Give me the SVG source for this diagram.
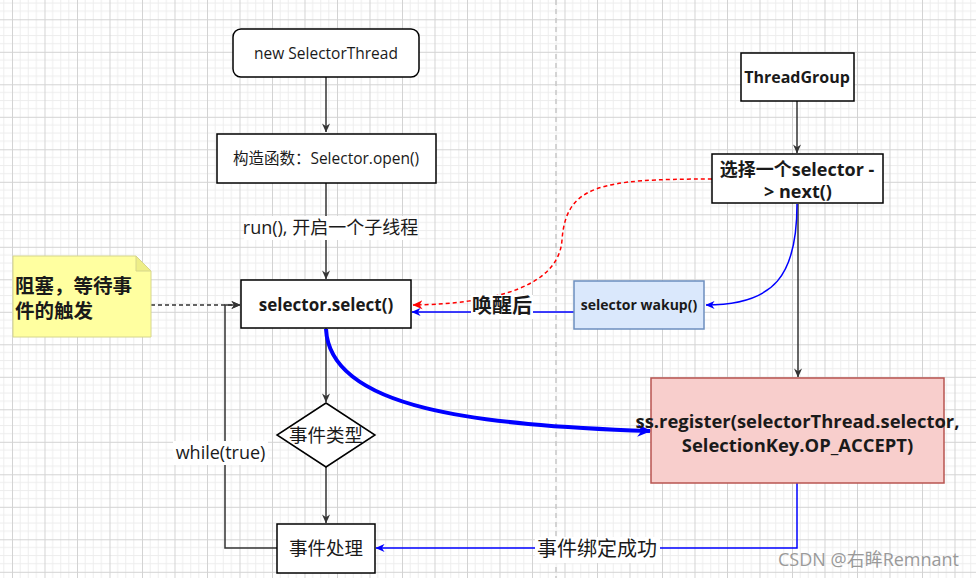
<svg xmlns="http://www.w3.org/2000/svg" width="976" height="578" viewBox="0 0 976 578">
<defs>
<pattern id="grid" x="12" y="19.3" width="32.5" height="32.5" patternUnits="userSpaceOnUse">
<path d="M8.125,0V32.5M16.25,0V32.5M24.375,0V32.5M0,8.125H32.5M0,16.25H32.5M0,24.375H32.5" stroke="#ededed" stroke-width="1" fill="none"/>
<path d="M0.5,0V32.5M0,0.5H32.5" stroke="#d3d3d3" stroke-width="1" fill="none"/>
</pattern>
<marker id="ab" viewBox="0 0 10 10" refX="9.5" refY="5" markerWidth="9" markerHeight="9" orient="auto" markerUnits="userSpaceOnUse"><path d="M0,0.5L10,5L0,9.5L3,5z" fill="#333"/></marker>
<marker id="abl" viewBox="0 0 10 10" refX="9.5" refY="5" markerWidth="9" markerHeight="9" orient="auto" markerUnits="userSpaceOnUse"><path d="M0,0.5L10,5L0,9.5L3,5z" fill="#0000ff"/></marker>
<marker id="abig" viewBox="0 0 10 10" refX="9" refY="5" markerWidth="16" markerHeight="14" orient="auto" markerUnits="userSpaceOnUse"><path d="M0,0.5L10,5L0,9.5L3,5z" fill="#0000ff"/></marker>
<marker id="ar" viewBox="0 0 10 10" refX="9.5" refY="5" markerWidth="10" markerHeight="10" orient="auto" markerUnits="userSpaceOnUse"><path d="M0,0.5L10,5L0,9.5L3,5z" fill="#ff0000"/></marker>
</defs>
<style>
text{font-family:"Open Sans","Noto Sans CJK SC",sans-serif;fill:#1a1a1a;text-anchor:middle}
.b{font-weight:bold}
.box{fill:#fff;stroke:#000;stroke-width:1.5}
.ln{fill:none;stroke:#333;stroke-width:1.5}
.bl{fill:none;stroke:#0000ff;stroke-width:1.5}
.lbg{fill:#fff}
</style>
<rect width="976" height="578" fill="#fff"/>
<rect width="976" height="578" fill="url(#grid)"/>
<line x1="556" y1="0" x2="556" y2="578" stroke="#c8c8c8" stroke-width="1.5" stroke-dasharray="5 4"/>

<g id="connectors">
<path class="ln" d="M326,77V132" marker-end="url(#ab)"/>
<path class="ln" d="M326,183V279" marker-end="url(#ab)"/>
<path class="ln" d="M326,328V402" marker-end="url(#ab)"/>
<path class="ln" d="M326,467V523" marker-end="url(#ab)"/>
<path class="ln" d="M277,548H225V305H240" marker-end="url(#ab)"/>
<path class="ln" d="M151,305H240" stroke-dasharray="4 3" marker-end="url(#ab)"/>
<path class="ln" d="M797,101V153" marker-end="url(#ab)"/>
<path class="ln" d="M798,204V377" marker-end="url(#ab)"/>
<path class="bl" d="M797,204C797,275 775,305 706,305" marker-end="url(#abl)"/>
<path d="M712,179C600,179 566,185 562,240C558,295 470,304 413,305" fill="none" stroke="#ff0000" stroke-width="1.5" stroke-dasharray="4 3" marker-end="url(#ar)"/>
<path class="bl" d="M574,312H412" marker-end="url(#abl)"/>
<path d="M326,329C330,410 480,425 650,431" fill="none" stroke="#0000ff" stroke-width="4" marker-end="url(#abig)"/>
<path class="bl" d="M797,483V548H376" marker-end="url(#abl)"/>
<rect class="lbg" x="244" y="216" width="174" height="24"/>
<text x="330.5" y="234" font-size="18">run(), 开启一个子线程</text>
<rect class="lbg" x="173" y="441" width="95" height="24"/>
<text x="220.5" y="459" font-size="18">while(true)</text>
<rect class="lbg" x="471" y="295" width="62" height="24"/>
<text class="b" x="502" y="313" font-size="20">唤醒后</text>
<rect class="lbg" x="535" y="537" width="125" height="26"/>
<text x="597" y="556" font-size="20">事件绑定成功</text>
</g>

<g id="note">
<path d="M13,256H136L151,271V337H13Z" fill="#ffffa0" stroke="#d6d68c" stroke-width="1"/>
<path d="M136,256V271H151Z" fill="#eeee88" stroke="#d6d68c" stroke-width="1"/>
<text class="b" x="15" y="293" font-size="19.5" style="text-anchor:start">阻塞，等待事</text>
<text class="b" x="15" y="318" font-size="19.5" style="text-anchor:start">件的触发</text>
</g>

<g id="new-selector-thread">
<rect class="box" x="233" y="29" width="186" height="48" rx="8"/>
<text x="326" y="59" font-size="15.5">new SelectorThread</text>
</g>

<g id="constructor">
<rect class="box" x="217" y="134" width="219" height="49"/>
<text x="326" y="164" font-size="15.5">构造函数：Selector.open()</text>
</g>

<g id="selector-select">
<rect class="box" x="241" y="280" width="170" height="48"/>
<text class="b" x="326" y="311" font-size="17">selector.select()</text>
</g>

<g id="event-type">
<path d="M326,403L375,435L326,467L277,435Z" fill="#fff" stroke="#000" stroke-width="1.5"/>
<text x="326" y="442" font-size="18.5">事件类型</text>
</g>

<g id="event-handle">
<rect class="box" x="277" y="524" width="98" height="49"/>
<text x="326" y="555" font-size="18.5">事件处理</text>
</g>

<g id="thread-group">
<rect class="box" x="741" y="53" width="113" height="48"/>
<text class="b" x="797" y="83" font-size="16">ThreadGroup</text>
</g>

<g id="select-one">
<rect class="box" x="712" y="154" width="171" height="49"/>
<text class="b" x="797" y="176" font-size="18">选择一个selector -</text>
<text class="b" x="798" y="198" font-size="18">&gt; next()</text>
</g>

<g id="wakeup">
<rect x="574" y="281" width="130" height="48" fill="#dae8fc" stroke="#6c8ebf" stroke-width="1.5"/>
<text class="b" x="639" y="310" font-size="14">selector wakup()</text>
</g>

<g id="register">
<rect x="651" y="378" width="293" height="105" fill="#f8cecc" stroke="#b85450" stroke-width="1.5"/>
<text class="b" x="797.5" y="428" font-size="18.4">ss.register(selectorThread.selector,</text>
<text class="b" x="797.5" y="452" font-size="18.4">SelectionKey.OP_ACCEPT)</text>
</g>

<text x="778" y="566" font-size="18" style="text-anchor:start;fill:#9a9a9a">CSDN @右眸Remnant</text>
</svg>
